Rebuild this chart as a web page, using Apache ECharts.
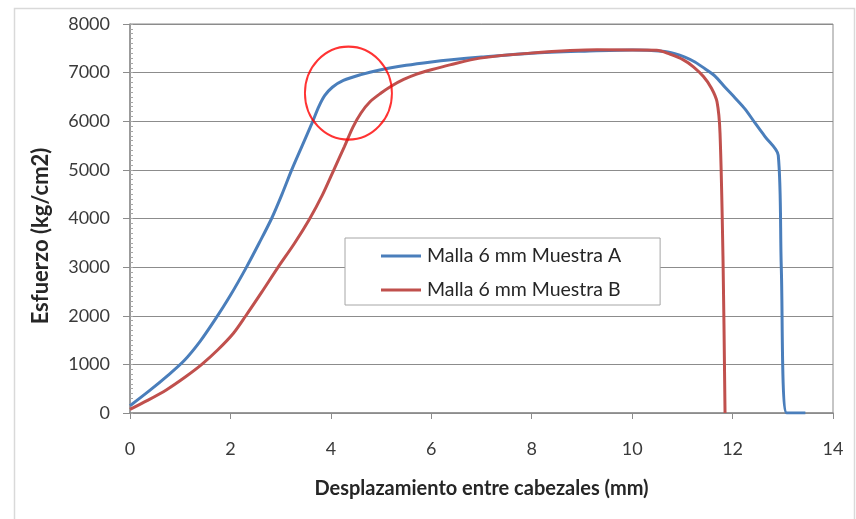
<!DOCTYPE html>
<html>
<head>
<meta charset="utf-8">
<script src="https://cdn.jsdelivr.net/npm/echarts@6/dist/echarts.min.js"></script>
<style>html,body{margin:0;padding:0;background:#fff}#c{width:856px;height:519px}</style>
</head>
<body>
<div id="c"></div>
<script>
const seriesNames = ['Malla 6 mm Muestra A', 'Malla 6 mm Muestra B'];
const xTickLabels = [0, 2, 4, 6, 8, 10, 12, 14];
const yTickLabels = [0, 1000, 2000, 3000, 4000, 5000, 6000, 7000, 8000];
const xName = 'Desplazamiento entre cabezales (mm)';
const yName = 'Esfuerzo (kg/cm2)';

const muestraA = [
  [0,150],[0.4,470],[0.75,770],[1.08,1080],[1.4,1480],[1.7,1930],[2.0,2420],[2.32,3000],
  [2.57,3490],[2.82,4000],[3.02,4480],[3.22,5000],[3.43,5500],[3.62,5950],[3.76,6300],[3.88,6530],
  [4.03,6700],[4.25,6840],[4.6,6960],[4.95,7050],[5.5,7150],[6.0,7220],[6.4,7265],[7.0,7320],
  [8.0,7400],[9.0,7440],[10.0,7465],[10.6,7440],[10.85,7390],[11.05,7320],[11.25,7220],
  [11.45,7080],[11.65,6930],[11.85,6700],[12.05,6480],[12.25,6250],[12.45,5960],[12.65,5680],
  [12.91,5300],[12.97,3000],[13.08,0],[13.45,0]
];
const muestraB = [
  [0,75],[0.35,260],[0.73,480],[1.1,740],[1.43,1000],[1.75,1300],[2.06,1640],[2.3,1990],
  [2.62,2480],[2.95,3000],[3.27,3480],[3.57,3980],[3.83,4480],[4.06,5000],[4.27,5480],
  [4.44,5880],[4.6,6170],[4.78,6400],[5.0,6580],[5.2,6720],[5.45,6860],[5.71,6970],
  [6.0,7060],[6.37,7160],[6.97,7298],[7.97,7401],[9.3,7469],[10.49,7460],[10.75,7380],
  [11.02,7263],[11.22,7120],[11.42,6920],[11.58,6680],[11.69,6400],[11.75,5755],
  [11.81,3148],[11.85,0]
];
const highlight = [[4.35, 6578]];

const FONT = 'Lato';
const chart = echarts.init(document.getElementById('c'));
chart.setOption({
  animation: false,
  backgroundColor: '#fff',
  textStyle: { fontFamily: FONT },
  graphic: [{
    type: 'rect', left: 12, top: 6, silent: true,
    shape: { width: 840, height: 530 },
    style: { fill: 'none', stroke: '#d9d9d9', lineWidth: 1.5 }
  }, {
    type: 'text', x: 41, y: 236, rotation: Math.PI / 2, silent: true,
    style: { text: yName, fill: '#262626', font: 'bold 22px Lato', align: 'center', verticalAlign: 'middle' }
  }],
  grid: { left: 130, top: 24, width: 703, height: 389, show: true, borderColor: '#8c8c8c', borderWidth: 1, backgroundColor: 'transparent' },
  legend: {
    orient: 'vertical', left: 345, top: 238,
    data: seriesNames,
    icon: 'rect', itemWidth: 40, itemHeight: 3, itemGap: 14,
    padding: [8, 39, 5, 36],
    borderColor: '#a6a6a6', borderWidth: 1, backgroundColor: '#fff',
    textStyle: { fontFamily: FONT, fontSize: 19.5, color: '#262626', padding: [0, 0, 0, 1] }
  },
  xAxis: {
    type: 'value', min: 0, max: 14, interval: 2,
    name: xName, nameLocation: 'middle', nameGap: 66,
    nameTextStyle: { fontFamily: FONT, fontSize: 20, fontWeight: 'bold', color: '#262626' },
    axisLine: { show: true, lineStyle: { color: '#8c8c8c', width: 1.5 } },
    axisTick: { show: true, length: 6, lineStyle: { color: '#8c8c8c' } },
    axisLabel: { fontFamily: FONT, fontSize: 18, color: '#3a3a3a', margin: 27 },
    splitLine: { show: false }
  },
  yAxis: [{
    type: 'value', min: 0, max: 8000, interval: 1000,
    axisLine: { show: true, lineStyle: { color: '#8c8c8c', width: 1.5 } },
    axisTick: { show: true, length: 7, lineStyle: { color: '#8c8c8c' } },
    axisLabel: { fontFamily: FONT, fontSize: 18, color: '#3a3a3a', margin: 20, formatter: (v) => String(v) },
    splitLine: { show: true, lineStyle: { color: '#8c8c8c', width: 1.2 } }
  }, {
    type: 'value', min: 0, max: 8000, interval: 1000, position: 'left',
    axisLine: { show: false },
    axisTick: { show: true, inside: true, length: 3, lineStyle: { color: '#a6a6a6' } },
    minorTick: { show: true, splitNumber: 10, length: 3, lineStyle: { color: '#a6a6a6' } },
    axisLabel: { show: false },
    splitLine: { show: false }
  }],
  series: [{
    name: seriesNames[0], type: 'line', data: muestraA, showSymbol: false, smooth: 0.3,
    lineStyle: { color: '#4a7ebb', width: 3 }, itemStyle: { color: '#4a7ebb' }, z: 3
  }, {
    name: seriesNames[1], type: 'line', data: muestraB, showSymbol: false, smooth: 0.3,
    lineStyle: { color: '#c0504d', width: 3 }, itemStyle: { color: '#c0504d' }, z: 4
  }, {
    name: 'circulo', type: 'scatter', data: highlight, symbol: 'circle', symbolSize: [87, 93],
    silent: true, z: 5,
    itemStyle: { color: 'rgba(0,0,0,0)', borderColor: '#ff0000', borderWidth: 2 }
  }]
});
</script>
</body>
</html>
